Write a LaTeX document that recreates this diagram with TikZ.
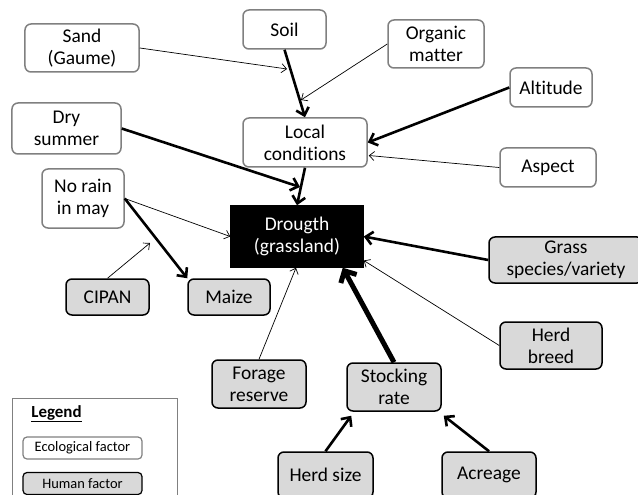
\documentclass[tikz,border=0pt]{standalone}
\usepackage{fontspec}
\setmainfont{Carlito}[Ligatures=NoCommon]
\usetikzlibrary{arrows.meta,calc}
\definecolor{ecoborder}{HTML}{808080}
\definecolor{humfill}{HTML}{D9D9D9}
\begin{document}
\begin{tikzpicture}[x=1bp,y=-1bp,
  box/.style={rounded corners=6bp, line width=1.5bp, align=center, inner sep=0pt, font=\fontsize{19.5}{22}\selectfont},
  eco/.style={box, draw=ecoborder, fill=white},
  hum/.style={box, draw=black, fill=humfill},
  legbox/.style={rounded corners=4bp, line width=1.2bp, font=\fontsize{14.5}{16}\selectfont, minimum width=119bp, minimum height=22bp},
  weak/.style={line width=0.7bp, -{Straight Barb[length=5bp,width=9bp]}},
  strong/.style={line width=2.6bp, -{Straight Barb[length=7bp,width=13bp]}},
  vstrong/.style={line width=5bp, -{Straight Barb[length=9bp,width=18bp]}}
]
\useasboundingbox (0,0) rectangle (638,495);
\clip (0,0) rectangle (638,495);
\fill[white] (0,0) rectangle (638,495);

\node[eco, minimum width=114bp, minimum height=48bp] (sand) at (82,48) {Sand\\(Gaume)};
\node[eco, minimum width=83bp, minimum height=39bp] (soil) at (284.5,29.5) {Soil};
\node[eco, minimum width=96bp, minimum height=48bp] (organic) at (436,44) {Organic\\matter};
\node[eco, minimum width=82bp, minimum height=39bp] (altitude) at (551,87.5) {Altitude};
\node[eco, minimum width=124bp, minimum height=49bp] (local) at (305,142.5) {Local\\conditions};
\node[eco, minimum width=96bp, minimum height=39bp] (aspect) at (548,167.5) {Aspect};
\node[eco, minimum width=109bp, minimum height=51bp] (dry) at (66.5,128.5) {Dry\\summer};
\node[eco, minimum width=82bp, minimum height=59bp] (norain) at (83,198.5) {No rain\\in may};
\node[box, rounded corners=0pt, draw=black, fill=black, text=white, minimum width=132bp, minimum height=61bp] (drought) at (297,236.5) {Drougth\\(grassland)};
\node[hum, minimum width=83bp, minimum height=36bp] (cipan) at (107.5,297) {CIPAN};
\node[hum, minimum width=82bp, minimum height=36bp] (maize) at (229,297) {Maize};
\node[hum, minimum width=154bp, minimum height=46bp] (grass) at (566,260) {Grass\\species/variety};
\node[hum, minimum width=102bp, minimum height=47bp] (herdbreed) at (551,345.5) {Herd\\breed};
\node[hum, minimum width=94bp, minimum height=48bp] (forage) at (259,384) {Forage\\reserve};
\node[hum, minimum width=94bp, minimum height=48bp] (stocking) at (394,387) {Stocking\\rate};
\node[hum, minimum width=95bp, minimum height=46bp] (herdsize) at (325.5,475) {Herd size};
\node[hum, minimum width=94bp, minimum height=46bp] (acreage) at (489,475) {Acreage};

% legend
\node[draw=ecoborder, line width=1bp, minimum width=165bp, minimum height=110bp, anchor=north west, inner sep=0pt] (legend) at (12,398) {};
\node[font=\bfseries\fontsize{17}{19}\selectfont, anchor=base, inner sep=0pt] (legendtitle) at (56.5,417) {\underline{Legend}};
\node[eco, legbox] (legeco) at (82.5,448) {Ecological factor};
\node[hum, legbox] (leghum) at (82.5,483.5) {Human factor};

% free ends
\coordinate (sandend) at (287,69);
\coordinate (omend) at (301,100);
\coordinate (dryend) at (300,187);
\coordinate (cipanend) at (150,243);

% connectors
\draw[weak] (sand.east) -- (sandend);
\draw[strong] (soil.south) -- (local.north);
\draw[weak] (organic.west) -- (omend);
\draw[strong] (altitude.west) -- (local.east);
\draw[weak] (aspect.west) -- ($(local.east)+(1,13)$);
\draw[strong] (dry.east) -- (dryend);
\draw[strong] (local.south) -- (drought.north);
\draw[weak] (norain.east) -- (drought.west);
\draw[strong] (norain.east) -- (maize.north west);
\draw[weak] (cipan.north) -- (cipanend);
\draw[weak] (forage.north) -- ($(drought.south)+(-1,0)$);
\draw[vstrong] (stocking.north) -- ($(drought.south east)+(-21,0)$);
\draw[weak] (herdbreed.west) -- ($(drought.east)+(0,24)$);
\draw[strong] (grass.west) -- (drought.east);
\draw[strong] (herdsize.north) -- ($(stocking.south west)+(5,4)$);
\draw[strong] (acreage.north) -- ($(stocking.south east)+(2,4)$);
\end{tikzpicture}
\end{document}
